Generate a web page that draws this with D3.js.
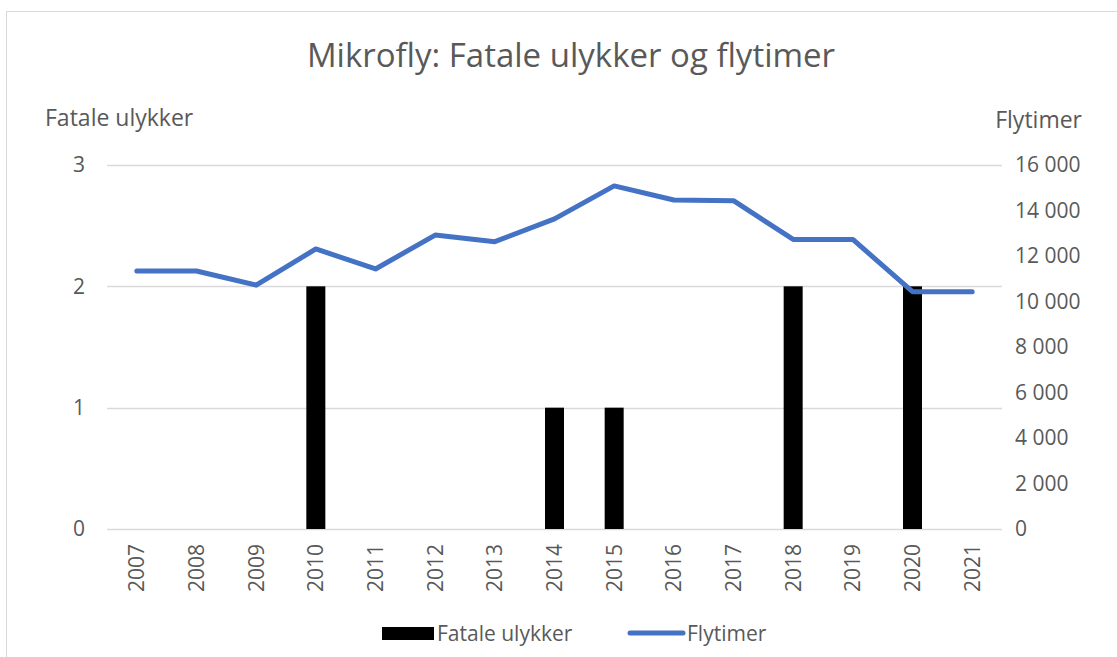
<!DOCTYPE html>
<html>
<head>
<meta charset="utf-8">
<script src="https://cdn.jsdelivr.net/npm/d3@7"></script>
<style>
  body { margin: 0; background: #fff; }
  text { font-family: "Open Sans", sans-serif; fill: #595959; }
</style>
</head>
<body>
<div id="chart"></div>
<script>
// data
var years = ["2007", "2008", "2009", "2010", "2011", "2012", "2013", "2014",
  "2015", "2016", "2017", "2018", "2019", "2020", "2021"];
var fatale = [0, 0, 0, 2, 0, 0, 0, 1, 1, 0, 0, 2, 0, 2, 0];
var flytimer = [11340, 11340, 10720, 12310, 11430, 12920, 12630, 13630,
  15080, 14460, 14430, 12730, 12730, 10430, 10430];
var leftTicks = [0, 1, 2, 3];
var rightTicks = [0, 2000, 4000, 6000, 8000, 10000, 12000, 14000, 16000];

var svgWidth = 1117;
var svgHeight = 657;
var margin = { top: 165, right: 115, bottom: 128, left: 107 };
var width = svgWidth - margin.left - margin.right;
var height = svgHeight - margin.top - margin.bottom;

var svg = d3.select("#chart")
  .append("svg")
  .attr("width", svgWidth)
  .attr("height", svgHeight);

// chart border
svg.append("rect")
  .attr("x", 6.5)
  .attr("y", 11.5)
  .attr("width", 1130)
  .attr("height", 700)
  .attr("fill", "none")
  .attr("stroke", "#d9d9d9");

var chartGroup = svg.append("g")
  .attr("transform", `translate(${margin.left}, ${margin.top})`);

var x = d3.scaleBand().domain(years).range([0, width]);
var yLeft = d3.scaleLinear().domain([0, 3]).range([height, 0]);
var yRight = d3.scaleLinear().domain([0, 16000]).range([height, 0]);

// gridlines
chartGroup.selectAll(".grid")
  .data(leftTicks)
  .enter()
  .append("line")
  .attr("x1", 0)
  .attr("x2", width)
  .attr("y1", d => Math.round(yLeft(d)) + 0.5)
  .attr("y2", d => Math.round(yLeft(d)) + 0.5)
  .attr("stroke", "#d9d9d9")
  .attr("stroke-width", 1.3);

// axes
var leftAxis = d3.axisLeft(yLeft).tickValues(leftTicks).tickSize(0).tickPadding(22)
  .tickFormat(d3.format("d"));
var rightAxis = d3.axisRight(yRight).tickValues(rightTicks).tickSize(0).tickPadding(13)
  .tickFormat(d => d3.format(",")(d).replace(",", " "));
var bottomAxis = d3.axisBottom(x).tickSize(0).tickPadding(0);

var gl = chartGroup.append("g").call(leftAxis);
var gr = chartGroup.append("g").attr("transform", `translate(${width}, 0)`).call(rightAxis);
var gb = chartGroup.append("g").attr("transform", `translate(0, ${height})`).call(bottomAxis);
[gl, gr, gb].forEach(function(g) {
  g.select(".domain").remove();
  g.selectAll("text").attr("font-size", 21).attr("fill", "#595959")
    .style("font-family", "'Open Sans', sans-serif");
});
gb.selectAll("text")
  .attr("transform", "rotate(-90)")
  .attr("text-anchor", "end")
  .attr("x", -15)
  .attr("y", 0)
  .attr("dy", "0.35em");

// bars
var barW = 19;
chartGroup.selectAll(".bar")
  .data(fatale)
  .enter()
  .append("rect")
  .attr("x", (d, i) => x(years[i]) + x.bandwidth() / 2 - barW / 2)
  .attr("y", d => yLeft(d))
  .attr("width", barW)
  .attr("height", d => height - yLeft(d))
  .attr("fill", "#000");

// line
var line = d3.line()
  .x((d, i) => x(years[i]) + x.bandwidth() / 2)
  .y(d => yRight(d));

chartGroup.append("path")
  .datum(flytimer)
  .attr("d", line)
  .attr("fill", "none")
  .attr("stroke", "#4472c4")
  .attr("stroke-width", 5)
  .attr("stroke-linejoin", "round")
  .attr("stroke-linecap", "round");

// title and axis titles
svg.append("text")
  .attr("x", 571)
  .attr("y", 67)
  .attr("text-anchor", "middle")
  .attr("font-size", 33)
  .text("Mikrofly: Fatale ulykker og flytimer");

svg.append("text")
  .attr("x", 45)
  .attr("y", 126)
  .attr("font-size", 23)
  .text("Fatale ulykker");

svg.append("text")
  .attr("x", 1082)
  .attr("y", 128)
  .attr("text-anchor", "end")
  .attr("font-size", 23)
  .text("Flytimer");

// legend
var legend = svg.append("g");
legend.append("rect")
  .attr("x", 382)
  .attr("y", 627)
  .attr("width", 52)
  .attr("height", 13)
  .attr("fill", "#000");
legend.append("text")
  .attr("x", 437)
  .attr("y", 641)
  .attr("font-size", 21)
  .text("Fatale ulykker");
legend.append("line")
  .attr("x1", 630)
  .attr("x2", 683)
  .attr("y1", 633)
  .attr("y2", 633)
  .attr("stroke", "#4472c4")
  .attr("stroke-width", 5)
  .attr("stroke-linecap", "round");
legend.append("text")
  .attr("x", 687)
  .attr("y", 641)
  .attr("font-size", 21)
  .text("Flytimer");
</script>
</body>
</html>
